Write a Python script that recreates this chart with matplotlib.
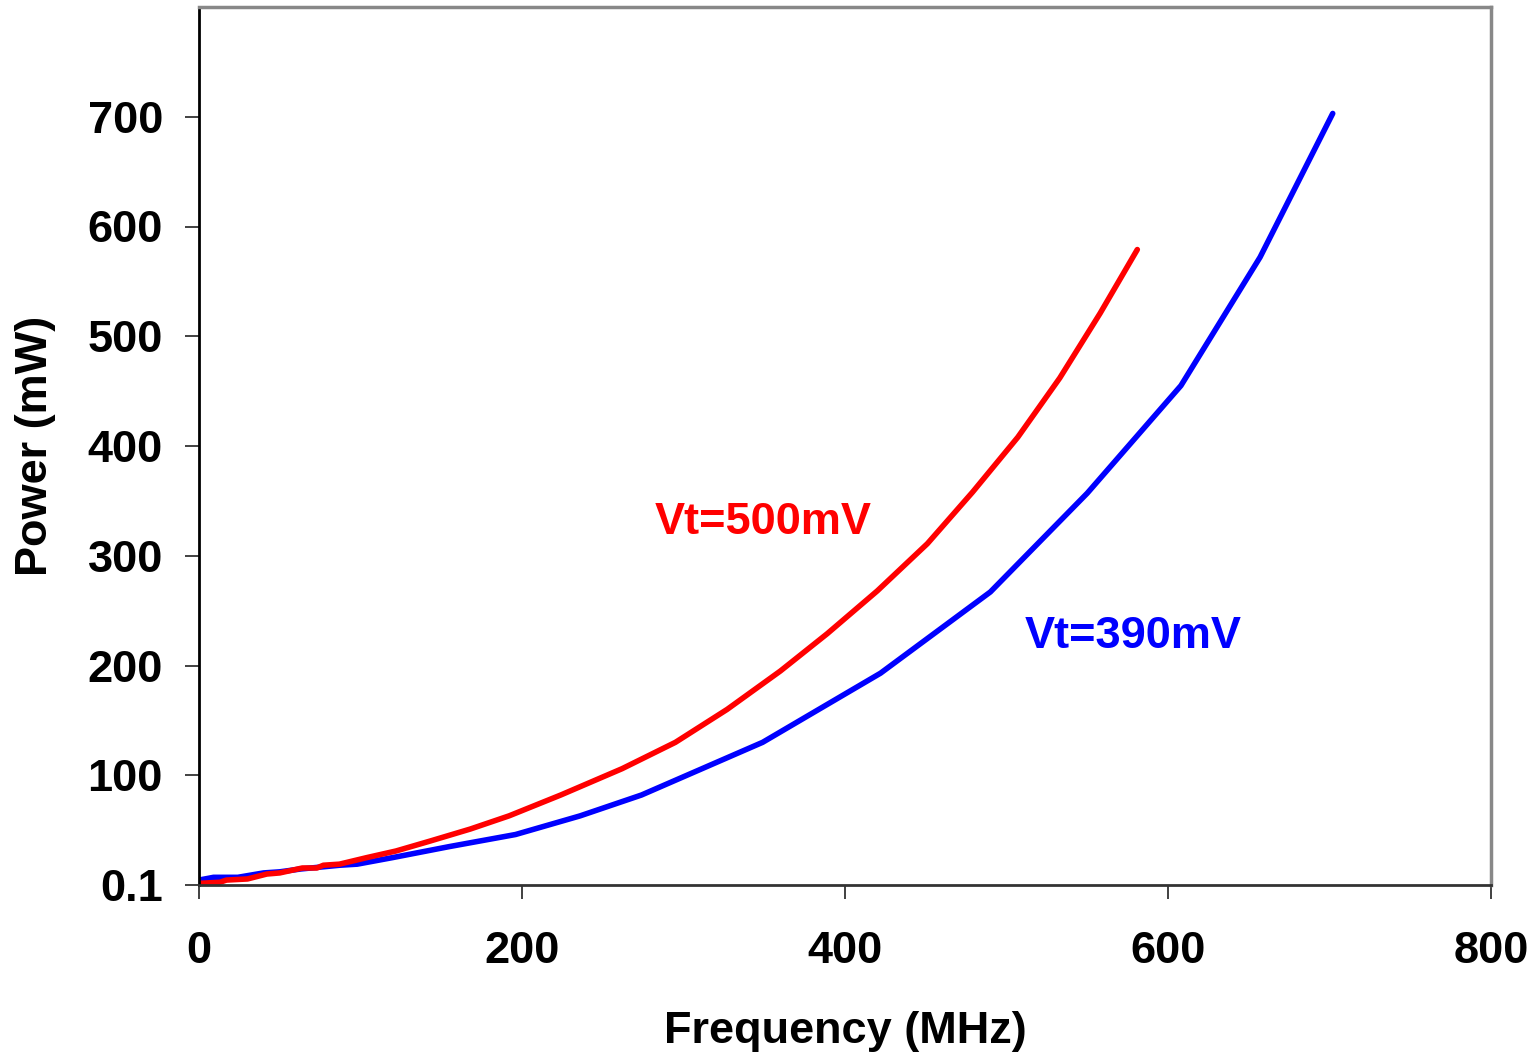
import matplotlib
matplotlib.use('Agg')
import matplotlib.pyplot as plt

plt.rcParams['font.family'] = ['Liberation Sans', 'DejaVu Sans']
plt.rcParams['font.weight'] = 'bold'

# Vt = 500mV curve
freq_500 = [0, 13, 17, 30, 42, 50, 64, 73, 77, 87, 104, 122, 143, 168, 192, 224,
            262, 295, 327, 360, 389, 420, 451, 479, 507, 533, 558, 581]
power_500 = [1.5, 2.5, 4.5, 5.5, 10, 11, 15.5, 15.5, 18, 19, 25, 31, 40, 51, 63, 82,
             106, 130, 160, 195, 229, 268, 311, 358, 408, 462, 521, 579]

# Vt = 390mV curve
freq_390 = [0, 9, 24, 40, 50, 63, 87, 98, 120, 155, 196, 236, 274, 349, 422,
            490, 550, 608, 657, 702]
power_390 = [4.5, 7, 7, 11, 12, 14.6, 18, 19, 25, 35, 46, 63, 82, 130, 193,
             267, 357, 455, 572, 703]

y_ticks = [0, 100, 200, 300, 400, 500, 600, 700]
y_tick_labels = ['0.1', '100', '200', '300', '400', '500', '600', '700']
x_ticks = [0, 200, 400, 600, 800]

fig = plt.figure(figsize=(15.37, 10.58), dpi=100)
ax = fig.add_axes([199 / 1537, 173 / 1058, 1292 / 1537, 878 / 1058])

ax.plot(freq_390, power_390, color='#0000FF', linewidth=4, solid_capstyle='round')
ax.plot(freq_500, power_500, color='#FF0000', linewidth=4, solid_capstyle='round')

ax.text(282, 320, 'Vt=500mV', color='#FF0000', fontsize=32.5, fontweight='bold',
        ha='left', va='baseline')
ax.text(511, 216, 'Vt=390mV', color='#0000FF', fontsize=32.5, fontweight='bold',
        ha='left', va='baseline')

ax.set_xlim(0, 800)
ax.set_ylim(0, 800)
ax.set_xticks(x_ticks)
ax.set_yticks(y_ticks)
ax.set_yticklabels(y_tick_labels)
ax.tick_params(axis='both', labelsize=32.5, length=10, width=1.3, direction='out', colors='#333333',
               labelcolor='black')
ax.tick_params(axis='y', pad=16)
ax.tick_params(axis='x', pad=23)

ax.set_xlabel('Frequency (MHz)', fontsize=32.5, fontweight='bold')
ax.set_ylabel('Power (mW)', fontsize=32.5, fontweight='bold')
ax.xaxis.set_label_coords((845 - 199) / 1292, -0.144)
ax.yaxis.set_label_coords(-0.111, 0.5)

ax.spines['left'].set_color('black')
ax.spines['left'].set_linewidth(2)
ax.spines['bottom'].set_color('#333333')
ax.spines['bottom'].set_linewidth(2)
ax.spines['top'].set_color('#888888')
ax.spines['top'].set_linewidth(2.5)
ax.spines['right'].set_color('#888888')
ax.spines['right'].set_linewidth(2.5)

fig.savefig('out.png', dpi=100, facecolor='white')
